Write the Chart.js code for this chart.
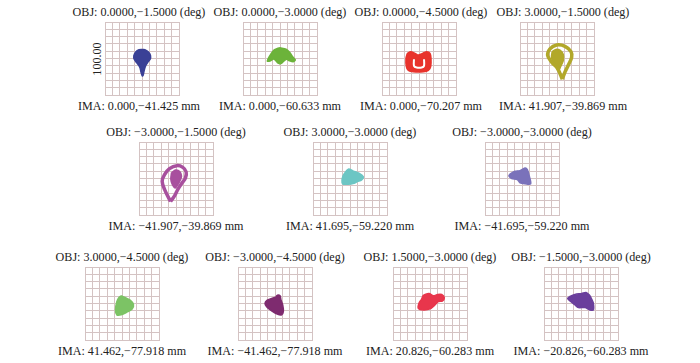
<!DOCTYPE html>
<html><head><meta charset="utf-8">
<script src="https://cdn.jsdelivr.net/npm/chart.js@4.4.1/dist/chart.umd.min.js"></script>
<style>
html,body{margin:0;padding:0;background:#fff;}
body{width:700px;height:363px;position:relative;overflow:hidden;font-family:"Liberation Serif","Times New Roman",serif;}
.lbl{position:absolute;font-size:12.1px;color:#222;white-space:nowrap;transform:translate(-50%,-50%);line-height:1;}
.rot{transform:translate(-50%,-50%) rotate(-90deg);}
canvas{position:absolute;}
</style></head><body>
<script>
// ---------- data ----------
const objLabels = [
  "OBJ: 0.0000,\u22121.5000 (deg)", "OBJ: 0.0000,\u22123.0000 (deg)", "OBJ: 0.0000,\u22124.5000 (deg)", "OBJ: 3.0000,\u22121.5000 (deg)",
  "OBJ: \u22123.0000,\u22121.5000 (deg)", "OBJ: 3.0000,\u22123.0000 (deg)", "OBJ: \u22123.0000,\u22123.0000 (deg)",
  "OBJ: 3.0000,\u22124.5000 (deg)", "OBJ: \u22123.0000,\u22124.5000 (deg)", "OBJ: 1.5000,\u22123.0000 (deg)", "OBJ: \u22121.5000,\u22123.0000 (deg)"
];
const imaLabels = [
  "IMA: 0.000,\u221241.425 mm", "IMA: 0.000,\u221260.633 mm", "IMA: 0.000,\u221270.207 mm", "IMA: 41.907,\u221239.869 mm",
  "IMA: \u221241.907,\u221239.869 mm", "IMA: 41.695,\u221259.220 mm", "IMA: \u221241.695,\u221259.220 mm",
  "IMA: 41.462,\u221277.918 mm", "IMA: \u221241.462,\u221277.918 mm", "IMA: 20.826,\u221260.283 mm", "IMA: \u221220.826,\u221260.283 mm"
];
const scaleLabel = "100.00";
const scaleMin = -50, scaleMax = 50, scaleStep = 10;

// spot outlines (micrometres, relative to chief ray)
const spot1 = [[0.5,12.5],[5,11.5],[9,8.5],[11.5,4],[11,-1],[8,-5],[5,-10],[3,-16],[1.5,-23],[0.5,-24],[-1,-20],[-3,-12],[-7,-6],[-10.5,-1],[-11,4],[-8.5,9],[-4,12]];
const spot2 = [[0,14.6],[8.1,12.8],[13.5,7.8],[17.1,2.4],[20.7,-2],[18,-4.3],[12.6,-3],[9,-1.1],[5.4,-3.4],[2.3,-6.5],[0,-7.4],[-2.3,-6.5],[-5.4,-3.4],[-8.6,-0.7],[-12.6,-3],[-17.1,-3.8],[-15.8,0.2],[-12.6,5.6],[-8.1,11.5],[-3.6,13.7]];
const spot3 = [[-15.8,7],[-11.3,9.2],[-5.4,7],[-0.9,4.7],[5,7],[10.4,9.2],[14.9,7],[16.2,0.3],[15.8,-11],[12.6,-16.4],[5.9,-18.2],[-7.7,-18.2],[-14.4,-16.4],[-17.1,-11],[-17.6,0.3]];
const spot3Gap = [[-6.8,-1.1],[-6.8,-10.1],[-3.2,-12.4],[3.6,-12.4],[6.8,-10.1],[6.8,-1.1]];
const spot4Ring = [[7.2,-28.4],[0.9,-14],[-7.2,-5],[-12.6,4],[-9.5,13.1],[-0.4,18.5],[10.8,16.7],[18.9,9.5],[19.8,1.8],[16.2,-7.2],[10.8,-18.5],[7.2,-28.4]];
const spot4Core = [[-6.5,9.5],[-1.5,12.5],[4.5,11],[8.5,5.5],[8.5,-3],[5,-11],[2,-17],[-1,-12],[-4.5,-6],[-7.5,1]];
const spot5Ring = [[-7.4,-31.5],[-15.5,-14.9],[-18.7,-3.6],[-15.5,5.4],[-8.8,13.5],[1.1,17.6],[9.2,15.3],[13.7,9],[12.8,0.9],[8.3,-5.9],[2.5,-14.9],[-2,-23.9],[-7.4,-31.5]];
const spot5Core = [[-6,8],[-0.5,11.5],[5,9.5],[7.5,3],[4.5,-5],[-1,-13],[-5,-8],[-7,-1]];
const spot6 = [[-9,4.7],[-2.3,12.8],[4.5,10.1],[12.6,7],[18,2.4],[15.8,-2],[9.9,-4.3],[5.4,-6.5],[-2.3,-7.8],[-9.9,-7.4],[-10.8,-2]];
const spot7 = [[-17.1,5.4],[-9.5,9.9],[-2.7,10.8],[4.1,14.4],[7.2,12.2],[9.9,3.2],[11.7,-7.2],[4.1,-7.2],[-2.7,-5.9],[-6.3,-1.4],[-14,0],[-17.6,3.2]];
const spot8 = [[-1.1,10.6],[4.7,7.9],[11,4.7],[15.5,-1.1],[13.7,-7.4],[6.5,-11.9],[-1.1,-15.5],[-7,-15.5],[-8.8,-8.8],[-7,2.5],[-4.3,7.9]];
const spot9 = [[-4.5,7],[1.4,9.2],[3.1,11.5],[6.8,10.6],[8.1,4.7],[10.4,-2],[11.3,-11],[9,-15.5],[3.1,-14.6],[-4.5,-10.1],[-11.3,-4.3],[-13.5,0.3],[-10.4,4.7]];
const spot10 = [[-9,11.5],[-1.4,13.7],[4.5,10.6],[10.4,12.4],[15.8,12.4],[19.4,7.9],[16.7,3.4],[11.3,2.5],[6.8,-2],[0,-7.4],[-9,-8.8],[-15.8,-6.5],[-14.9,0.3],[-11.3,6.1]];
const spot11 = [[-15.8,9.2],[-8.1,12.4],[0.9,13.7],[6.8,15.1],[11.3,11.5],[14.4,6.1],[16.7,0.3],[16.7,-8.8],[12.2,-8.8],[5.4,-5.6],[-3.6,-5.6],[-8.1,-2],[-14.9,3.4],[-18,7]];

// ---------- styles / layout ----------
const colors = ['#3a4096','#6cb33a','#e8332c','#b2a82a','#a8509e','#6cc6c4','#7a72ba','#7cc365','#7e2b6f','#e8364c','#6a3f9c'];
const panels = [
  {x:105,y:22, fills:[spot1], dx:-3},
  {x:243,y:22, fills:[spot2]},
  {x:382,y:22, fills:[spot3], gaps:[spot3Gap], dx:2},
  {x:520,y:22, fills:[spot4Core], rings:[spot4Ring], dx:6},
  {x:139,y:142, fills:[spot5Core], rings:[spot5Ring]},
  {x:313,y:142, fills:[spot6]},
  {x:485,y:142, fills:[spot7]},
  {x:85,y:267, fills:[spot8]},
  {x:238,y:267, fills:[spot9]},
  {x:393,y:267, fills:[spot10]},
  {x:544,y:267, fills:[spot11]}
];
const GW = 74, GH = 73, PAD = 1;
const gridColor = '#d4c3c3';

function pts(a){ return a.map(p => ({x:p[0], y:p[1]})); }
function closed(a){ const p = pts(a); p.push({x:a[0][0], y:a[0][1]}); return p; }

function addLabel(text, cx, cy, cls){
  const d = document.createElement('div');
  d.className = 'lbl' + (cls ? ' ' + cls : '');
  d.textContent = text;
  d.style.left = cx + 'px'; d.style.top = cy + 'px';
  document.body.appendChild(d);
}

panels.forEach((p, i) => {
  const c = document.createElement('canvas');
  c.width = GW + 2*PAD; c.height = GH + 2*PAD;
  c.style.left = (p.x - PAD) + 'px'; c.style.top = (p.y - PAD) + 'px';
  c.style.width = c.width + 'px'; c.style.height = c.height + 'px';
  document.body.appendChild(c);
  const col = colors[i];
  const ds = [];
  (p.gaps || []).forEach(g => ds.push({data: pts(g), showLine:true, borderColor:'#ffffff', borderWidth:2, tension:0.3, pointRadius:0, fill:false}));
  (p.rings || []).forEach(r => ds.push({data: closed(r), showLine:true, borderColor:col, borderWidth:3.5, tension:0.35, pointRadius:0, fill:false}));
  (p.fills || []).forEach(f => ds.push({data: closed(f), showLine:true, borderColor:col, backgroundColor:col, borderWidth:1.5, tension:0.3, pointRadius:0, fill:'shape'}));
  const axis = {type:'linear', min:scaleMin, max:scaleMax,
    ticks:{display:false, stepSize:scaleStep},
    grid:{color:gridColor, lineWidth:1, drawTicks:false},
    border:{display:true, color:gridColor, width:1}};
  new Chart(c, {
    type:'scatter',
    data:{datasets: ds},
    options:{responsive:false, animation:false, devicePixelRatio:1,
      layout:{padding:PAD},
      plugins:{legend:{display:false}, tooltip:{enabled:false}},
      scales:{x:axis, y:JSON.parse(JSON.stringify(axis))}}
  });
  const cx = p.x + GW/2 + (p.dx || 0);
  addLabel(objLabels[i], cx, p.y - 10);
  addLabel(imaLabels[i], cx, p.y + GH + 11);
});
addLabel(scaleLabel, 97, 59, 'rot');
</script>
</body></html>
